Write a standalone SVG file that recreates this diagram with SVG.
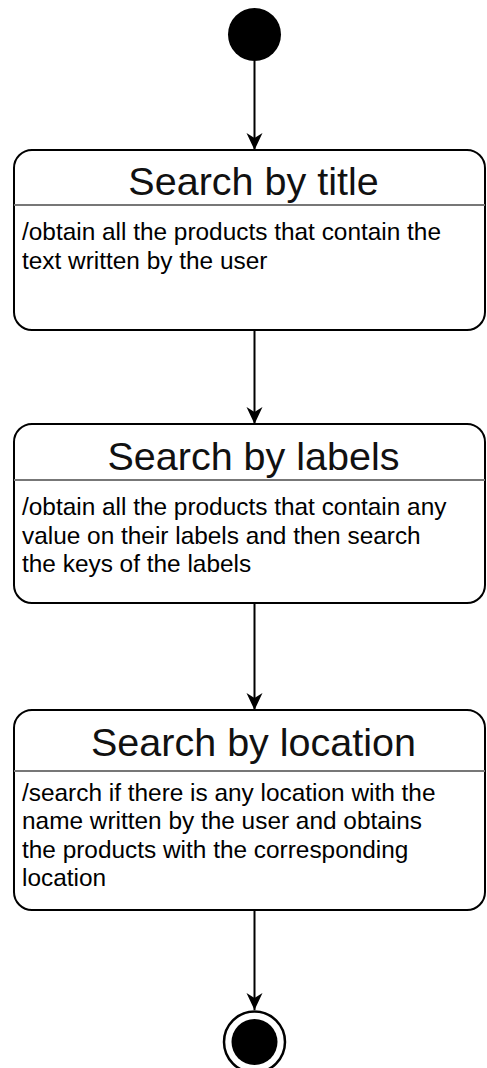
<svg xmlns="http://www.w3.org/2000/svg" width="487" height="1068" viewBox="0 0 487 1068">
  <style>
    .state { fill: #ffffff; stroke: #000000; stroke-width: 2; }
    .divider { stroke: #777777; stroke-width: 2; fill: none; }
    .title { font-family: "Liberation Sans", Arial, sans-serif; font-size: 39.5px; fill: #111111; text-anchor: middle; }
    .body { font-family: "Liberation Sans", Arial, sans-serif; font-size: 24.4px; fill: #000000; }
    .edge { stroke: #000000; stroke-width: 2; fill: none; marker-end: url(#arrow); }
  </style>
  <defs>
    <marker id="arrow" markerUnits="userSpaceOnUse" viewBox="0 0 18 18" refX="17" refY="9" markerWidth="18" markerHeight="18" orient="auto">
      <path d="M17,9 L0,1 L5,9 L0,17 Z" fill="#000000"/>
    </marker>
  </defs>

  <g id="connectors">
    <line class="edge" x1="254.5" y1="61" x2="254.5" y2="150"/>
    <line class="edge" x1="254.5" y1="331" x2="254.5" y2="424"/>
    <line class="edge" x1="254.5" y1="604" x2="254.5" y2="710"/>
    <line class="edge" x1="254.5" y1="911" x2="254.5" y2="1010"/>
  </g>

  <g id="start">
    <circle cx="254.5" cy="34.5" r="26.5" fill="#000000"/>
  </g>

  <g id="search-by-title">
    <rect class="state" x="14" y="150" width="471" height="180" rx="18" ry="18"/>
    <line class="divider" x1="14" y1="205" x2="485" y2="205"/>
    <text class="title" x="253.5" y="195">Search by title</text>
    <text class="body" x="22" y="240">/obtain all the products that contain the</text>
    <text class="body" x="22" y="269">text written by the user</text>
  </g>

  <g id="search-by-labels">
    <rect class="state" x="14" y="424" width="471" height="179" rx="18" ry="18"/>
    <line class="divider" x1="14" y1="480" x2="485" y2="480"/>
    <text class="title" x="253.5" y="470">Search by labels</text>
    <text class="body" x="22" y="515">/obtain all the products that contain any</text>
    <text class="body" x="22" y="544">value on their labels and then search</text>
    <text class="body" x="22" y="572">the keys of the labels</text>
  </g>

  <g id="search-by-location">
    <rect class="state" x="14" y="710" width="471" height="200" rx="18" ry="18"/>
    <line class="divider" x1="14" y1="771" x2="485" y2="771"/>
    <text class="title" x="253.5" y="756">Search by location</text>
    <text class="body" x="22" y="801">/search if there is any location with the</text>
    <text class="body" x="22" y="829">name written by the user and obtains</text>
    <text class="body" x="22" y="858">the products with the corresponding</text>
    <text class="body" x="22" y="886">location</text>
  </g>

  <g id="end">
    <circle cx="254.5" cy="1042" r="30.5" fill="#ffffff" stroke="#000000" stroke-width="2.5"/>
    <circle cx="254.5" cy="1042" r="23" fill="#000000"/>
  </g>
</svg>
